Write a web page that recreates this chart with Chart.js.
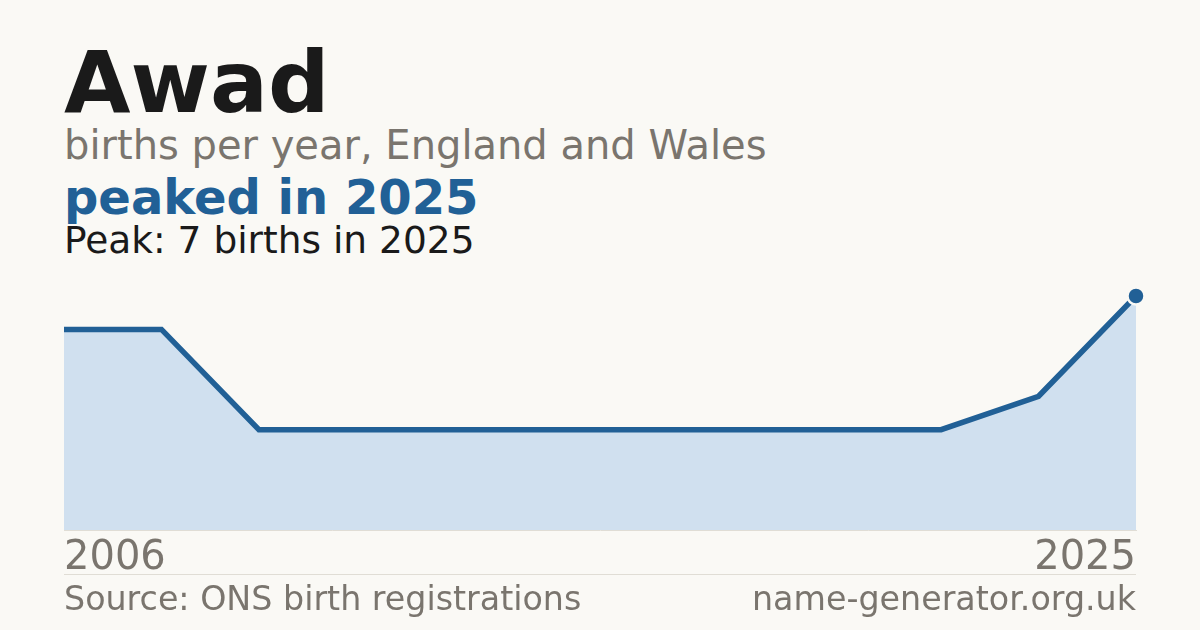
<!DOCTYPE html>
<html>
<head>
<meta charset="utf-8">
<script src="https://cdn.jsdelivr.net/npm/chart.js@4.4.1/dist/chart.umd.min.js"></script>
<style>
  html,body{margin:0;padding:0;background:#faf9f5;}
  body{width:1200px;height:630px;position:relative;overflow:hidden;font-family:"DejaVu Sans",sans-serif;}
  .t{position:absolute;left:64px;white-space:nowrap;}
  #title{top:39px;font-size:86px;font-weight:bold;color:#1a1a1a;line-height:1;}
  #sub{top:125px;font-size:40px;color:#7a756e;line-height:1;}
  #peak{top:173px;font-size:48px;font-weight:bold;color:#216096;line-height:1;}
  #note{top:222px;font-size:37.5px;color:#1a1a1a;line-height:1;}
  #divider{position:absolute;left:64px;width:1072px;top:574px;height:1px;background:#e0ddd5;}
  #src{position:absolute;left:64px;top:582px;font-size:33.3px;color:#7a756e;line-height:1;}
  #site{position:absolute;right:64px;top:582px;font-size:33.3px;color:#7a756e;line-height:1;}
  #wrap{position:absolute;left:0;top:270px;width:1200px;height:310px;}
</style>
</head>
<body>
<div id="title" class="t">Awad</div>
<div id="sub" class="t">births per year, England and Wales</div>
<div id="peak" class="t">peaked in 2025</div>
<div id="note" class="t">Peak: 7 births in 2025</div>
<div id="wrap"><canvas id="c" width="1200" height="310"></canvas></div>
<div id="divider"></div>
<div id="src">Source: ONS birth registrations</div>
<div id="site">name-generator.org.uk</div>
<script>
const categories = ['2006','','','','','','','','','','','2025'];
const births = [6, 6, 3, 3, 3, 3, 3, 3, 3, 3, 4, 7];
const tickLabels = ['2006', '2025'];

const lastIndex = births.length - 1;
new Chart(document.getElementById('c'), {
  type: 'line',
  data: {
    labels: categories,
    datasets: [{
      data: births,
      borderColor: '#216096',
      borderWidth: 5.5,
      backgroundColor: '#d0e0ef',
      fill: 'origin',
      tension: 0,
      pointRadius: births.map((v, i) => i === lastIndex ? 8.5 : 0),
      pointHoverRadius: 0,
      pointBackgroundColor: '#216096',
      pointBorderColor: '#faf9f5',
      pointBorderWidth: 2.5,
      clip: false
    }]
  },
  options: {
    responsive: false,
    animation: false,
    layout: { padding: { left: 64, right: 64, top: 26, bottom: 0 } },
    plugins: { legend: { display: false }, tooltip: { enabled: false } },
    scales: {
      x: {
        grid: { display: false, drawTicks: false },
        border: { display: true, color: '#e0ddd5', width: 1 },
        afterFit: s => { s.height = 50; },
        ticks: {
          autoSkip: false,
          maxRotation: 0,
          align: 'inner',
          padding: 5,
          color: '#7a756e',
          font: { family: 'DejaVu Sans', size: 40 },
          callback: function(v, i) {
            const l = this.getLabelForValue(v);
            return tickLabels.includes(l) ? l : '';
          }
        }
      },
      y: { display: false, min: 0, max: 7 }
    }
  }
});
</script>
</body>
</html>
